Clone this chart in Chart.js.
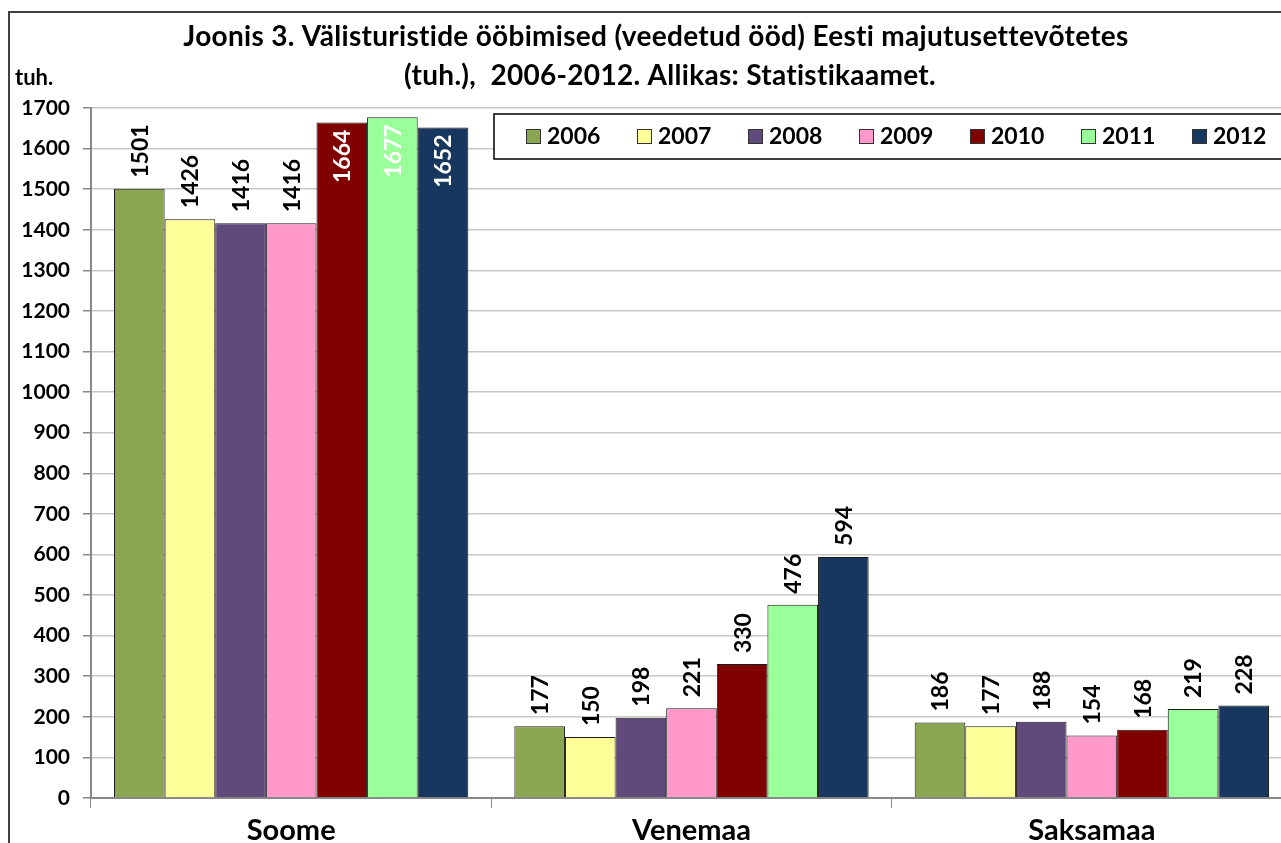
<!DOCTYPE html>
<html>
<head>
<meta charset="utf-8">
<script src="https://cdn.jsdelivr.net/npm/chart.js@4"></script>
<style>
  html, body { margin: 0; padding: 0; background: #fff; overflow: hidden; }
  canvas { display: block; }
</style>
</head>
<body>
<canvas id="nightsChart" width="1300" height="843"></canvas>
<script>
// data
const countries = ["Soome", "Venemaa", "Saksamaa"];
const years = ["2006", "2007", "2008", "2009", "2010", "2011", "2012"];
const v2006 = [1501, 177, 186];
const v2007 = [1426, 150, 177];
const v2008 = [1416, 198, 188];
const v2009 = [1416, 221, 154];
const v2010 = [1664, 330, 168];
const v2011 = [1677, 476, 219];
const v2012 = [1652, 594, 228];
const yTicks = [0, 100, 200, 300, 400, 500, 600, 700, 800, 900, 1000, 1100, 1200, 1300, 1400, 1500, 1600, 1700];

const titleLines = [
    "Joonis 3. Välisturistide ööbimised (veedetud ööd) Eesti majutusettevõtetes",
    "(tuh.),  2006-2012. Allikas: Statistikaamet."
];
const unitLabel = "tuh.";

const colors = ["#8BA650", "#FFFF99", "#604A7B", "#FF99CC", "#800000", "#99FF99", "#17375E"];
const FONT = "Lato, 'Open Sans', sans-serif";

const allValues = [v2006, v2007, v2008, v2009, v2010, v2011, v2012];

// frame, title, unit label and legend box
const decorPlugin = {
    id: 'decor',
    beforeDraw(chart) {
        const ctx = chart.ctx;
        ctx.save();
        ctx.strokeStyle = '#404040';
        ctx.lineWidth = 2;
        ctx.beginPath();
        ctx.moveTo(9, 843);
        ctx.lineTo(9, 12);
        ctx.lineTo(1300, 12);
        ctx.stroke();
        ctx.restore();
    },
    afterDraw(chart) {
        const ctx = chart.ctx;
        ctx.save();
        ctx.fillStyle = '#000';
        ctx.font = "bold 28px " + FONT;
        ctx.letterSpacing = '0.3px'; // also stops the "ti" ligature
        ctx.textAlign = 'center';
        ctx.textBaseline = 'middle';
        ctx.fillText(titleLines[0], 656, 37);
        ctx.fillText(titleLines[1], 670, 76);
        ctx.letterSpacing = '0px';

        ctx.font = "bold 22px " + FONT;
        ctx.textAlign = 'left';
        ctx.fillText(unitLabel, 15, 78);

        // legend
        ctx.fillStyle = '#fff';
        ctx.fillRect(494, 114, 820, 45);
        ctx.strokeStyle = '#000';
        ctx.lineWidth = 1.5;
        ctx.strokeRect(494, 114, 820, 45);
        ctx.font = "bold 23px " + FONT;
        ctx.textBaseline = 'middle';
        years.forEach((y, i) => {
            const x = 526 + i * 111;
            ctx.fillStyle = colors[i];
            ctx.fillRect(x, 129, 15, 15);
            ctx.strokeStyle = '#333';
            ctx.lineWidth = 1;
            ctx.strokeRect(x + 0.5, 129.5, 14, 14);
            ctx.fillStyle = '#000';
            ctx.fillText(y, x + 21, 137);
        });
        ctx.restore();
    }
};

// rotated value labels
const valueLabels = {
    id: 'valueLabels',
    afterDatasetsDraw(chart) {
        const ctx = chart.ctx;
        ctx.save();
        ctx.font = "bold 23px " + FONT;
        ctx.textBaseline = 'middle';
        chart.data.datasets.forEach((ds, di) => {
            chart.getDatasetMeta(di).data.forEach((bar, i) => {
                const txt = String(ds.data[i]);
                const w = ctx.measureText(txt).width;
                ctx.save();
                if (bar.y - 12 - w < chart.chartArea.top - 20) {
                    ctx.translate(bar.x, bar.y + 7);
                    ctx.rotate(-Math.PI / 2);
                    ctx.textAlign = 'right';
                    ctx.fillStyle = '#fff';
                } else {
                    ctx.translate(bar.x, bar.y - 11);
                    ctx.rotate(-Math.PI / 2);
                    ctx.textAlign = 'left';
                    ctx.fillStyle = '#000';
                }
                ctx.fillText(txt, 0, 1);
                ctx.restore();
            });
        });
        ctx.restore();
    }
};

new Chart(document.getElementById('nightsChart'), {
    type: 'bar',
    data: {
        labels: countries,
        datasets: years.map((y, i) => ({
            label: y,
            data: allValues[i],
            backgroundColor: colors[i],
            borderColor: '#1a1a1a',
            borderWidth: 1,
            categoryPercentage: 0.885,
            barPercentage: 1
        }))
    },
    options: {
        responsive: false,
        animation: false,
        devicePixelRatio: 1,
        layout: { padding: { top: 108, right: 8, left: 0, bottom: 0 } },
        plugins: {
            legend: { display: false },
            title: { display: false },
            tooltip: { enabled: false }
        },
        scales: {
            x: {
                grid: {
                    offset: true,
                    drawOnChartArea: false,
                    drawTicks: true,
                    tickLength: 10,
                    color: '#888'
                },
                border: { color: '#888', width: 2 },
                ticks: {
                    color: '#000',
                    padding: 5,
                    font: { family: FONT, size: 29, weight: 'bold' }
                },
                afterFit(scale) { scale.height = 45; }
            },
            y: {
                min: 0,
                max: 1700,
                afterBuildTicks(scale) { scale.ticks = yTicks.map(v => ({ value: v })); },
                grid: {
                    color: '#c8c8c8',
                    tickColor: '#888',
                    tickLength: 8,
                    lineWidth: 1.5
                },
                border: { color: '#888', width: 2 },
                ticks: {
                    color: '#000',
                    padding: 13,
                    callback: v => String(v),
                    font: { family: FONT, size: 21, weight: 'bold' }
                },
                afterFit(scale) { scale.width = 91; }
            }
        }
    },
    plugins: [decorPlugin, valueLabels]
});
</script>
</body>
</html>
